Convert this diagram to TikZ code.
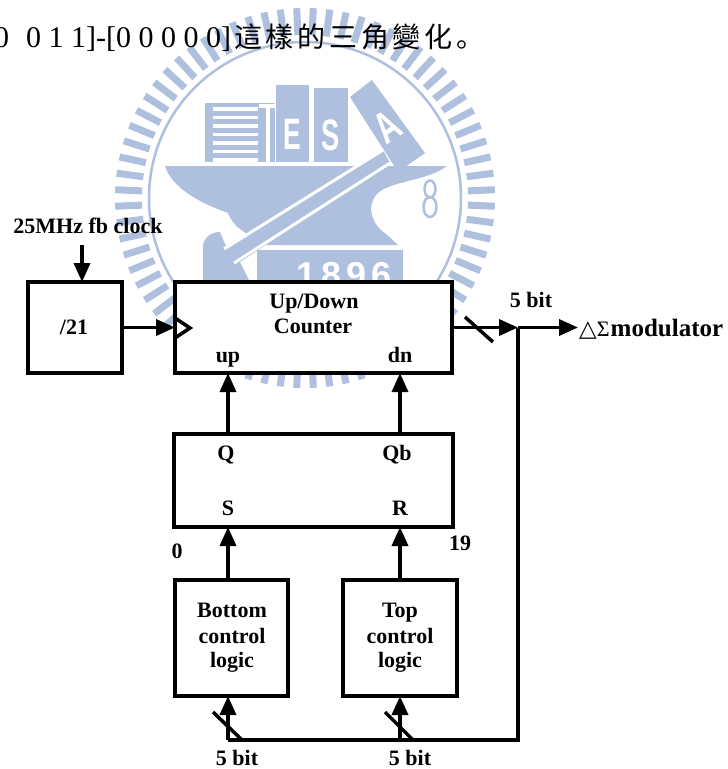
\documentclass[tikz,border=0pt]{standalone}
\usepackage{fontspec}
\setmainfont{Liberation Serif}
\newfontfamily\cjk{Noto Sans CJK SC}
\newfontfamily\symfont{DejaVu Sans}
\newfontfamily\wmsans{Liberation Sans}
\usetikzlibrary{arrows.meta,calc}
\definecolor{wm}{RGB}{175,191,222}

\begin{document}
\begin{tikzpicture}[x=1pt,y=-1pt,
  box/.style={draw, line width=4pt, fill=white, outer sep=0pt, inner sep=0pt},
  wire/.style={line width=3.5pt},
  arr/.style={wire, -{Triangle[length=19pt,width=16pt]}},
  lbl/.style={font=\bfseries\fontsize{22}{26}\selectfont, inner sep=0pt, anchor=base},
  wmletter/.style={text=white, inner sep=0pt, font=\wmsans\bfseries\fontsize{44}{44}\selectfont},
  bodytext/.style={inner sep=0pt, anchor=base west, font=\fontsize{30}{34}\selectfont}]

\useasboundingbox (0,0) rectangle (728,769);
\fill[white] (0,0) rectangle (728,769);

% ---------- seal in the background ----------
\begin{scope}[shift={(305,198)}]
  \foreach \a in {2.5,7.5,...,357.5}
    \draw[wm, line width=7pt] (\a:163) -- (\a:190);
  \draw[wm, line width=2.5pt] (0,0) circle (156);
\end{scope}
% books
\fill[wm] (205,103) rectangle (275,162);
\foreach \yy in {107,115.5,124,132.5,141,149.5,158}
  \fill[white] (213,\yy) rectangle (258,\yy+3.5);
\fill[white] (259,104) rectangle (275,107.5);
\fill[white] (266,104) rectangle (269.5,162);
\fill[wm] (276,85) rectangle (309,162);
\fill[wm] (314,88) rectangle (348,162);
\node[wmletter] (wmE) at (292.5,134) {\scalebox{0.6}[1]{E}};
\node[wmletter] (wmS) at (330.5,135) {\scalebox{0.62}[1]{S}};
% anvil
\fill[wm] (165,166) -- (447,166)
  .. controls (428,180) and (400,180) .. (382,190)
  .. controls (366,200) and (368,222) .. (386,234)
  -- (398,245) -- (262,245) -- (236,226)
  .. controls (230,218) and (228,214) .. (228,213)
  .. controls (200,203) and (172,188) .. (165,166) -- cycle;
\begin{scope}
  \clip (250,250) rectangle (410,280);
  \fill[wm] (257,250) rectangle (403,300);
  \foreach \d/\xx in {1/307,8/332,9/357,6/382}
    \node[text=white, inner sep=0pt, anchor=base, font=\wmsans\bfseries\fontsize{36}{36}\selectfont] (wmd\d) at (\xx,287) {\d};
\end{scope}
% hammer handle
\fill[wm] (383,150) -- (390,163) -- (240,262) -- (250,282) -- (203,282) -- (203,245)
  .. controls (205,236) and (212,232) .. (220,232) -- (226,246) -- cycle;
\draw[white, line width=3pt] (383,150) -- (224,249);
\draw[white, line width=3pt] (390,163) -- (234,263);
% hammer head
\fill[wm] (350,97) -- (372,80) -- (425,153) -- (398,172) -- cycle;
\node[wmletter, rotate=34] (wmA) at (387,127) {\scalebox{0.7}[1]{A}};
% the small 8
\draw[wm, line width=2.5pt] (430,189) ellipse (5.5 and 8.5);
\draw[wm, line width=2.5pt] (430,207) ellipse (6.5 and 10);

% ---------- running text ----------
\node[bodytext] (t0) at (-6,47) {0};
\node[bodytext] (t1) at (26,47) {0 1 1]-[0 0 0 0 0]};
\foreach \ch [count=\i] in {這,樣,的,三,角,變,化,。}
  \node[inner sep=0pt, anchor=base west, font=\cjk\fontsize{28}{32}\selectfont] (c\i) at ({234+(\i-1)*31.7},47) {\ch};

% ---------- blocks ----------
\node[box, minimum width=94pt, minimum height=91pt] (div) at (75,327.5) {};
\node[box, minimum width=277pt, minimum height=91pt] (cnt) at (313.5,327.5) {};
\node[box, minimum width=279pt, minimum height=93pt] (sr) at (313.5,480.5) {};
\node[box, minimum width=113pt, minimum height=116pt] (bot) at (231.5,638) {};
\node[box, minimum width=114pt, minimum height=116pt] (top) at (400,638) {};

% clock input of the counter
\draw[wire, line join=miter] (175,318) -- (190,328) -- (175,338);

% ---------- labels ----------
\node[lbl] (clktxt) at (88,233) {25MHz fb clock};
\node[lbl] (divtxt) at (74,334) {/21};
\node[lbl] (cnt1) at (314,308) {Up/Down};
\node[lbl] (cnt2) at (313,333) {Counter};
\node[lbl] (up) at (228,362) {up};
\node[lbl] (dn) at (400,362) {dn};
\node[lbl] (q) at (226,460) {Q};
\node[lbl] (qb) at (397,460) {Qb};
\node[lbl] (s) at (228,515) {S};
\node[lbl] (r) at (400,515) {R};
\node[lbl] (zero) at (177,558) {0};
\node[lbl] (nineteen) at (460,550) {19};
\node[lbl] (bot1) at (232,617) {Bottom};
\node[lbl] (bot2) at (232,643) {control};
\node[lbl] (bot3) at (232,667) {logic};
\node[lbl] (top1) at (400,617) {Top};
\node[lbl] (top2) at (400,643) {control};
\node[lbl] (top3) at (400,667) {logic};
\node[lbl] (bus0) at (531,307) {5 bit};
\node[lbl] (bus1) at (237,765) {5 bit};
\node[lbl] (bus2) at (410,765) {5 bit};
\node[inner sep=0pt, anchor=base west] (mod) at (579,336)
  {{\symfont\fontsize{23}{26}\selectfont △}{\fontsize{22}{26}\selectfont Σ}\kern1pt{\bfseries\fontsize{25}{28}\selectfont modulator}};

% ---------- connectors ----------
\coordinate (clk) at (82,245);
\coordinate (j) at (518,327.5);
\coordinate (modin) at (578,327.5);
\coordinate (jb) at (518,740);
\coordinate (b1) at (228,740);
\coordinate (b2) at (400,740);

\draw[arr] (clk) -- (clk |- div.north);
\draw[arr] (div.east) -- (cnt.west);
\draw[arr] (cnt.east) -- (j);
\draw[arr] (j) -- (modin);
\draw[wire, line join=miter] (j) -- (jb) -- (b1);
\draw[arr] (b1) -- (b1 |- bot.south);
\draw[arr] (b2) -- (b2 |- top.south);
\draw[arr] (bot.north -| b1) -- (sr.south -| b1);
\draw[arr] (top.north -| b2) -- (sr.south -| b2);
\draw[arr] (sr.north -| b1) -- (cnt.south -| b1);
\draw[arr] (sr.north -| b2) -- (cnt.south -| b2);

% bus width marks
\draw[wire] (465,317) -- (493,342);
\draw[wire] (213,712) -- (242,740);
\draw[wire] (385,712) -- (413,740);
\end{tikzpicture}
\end{document}
